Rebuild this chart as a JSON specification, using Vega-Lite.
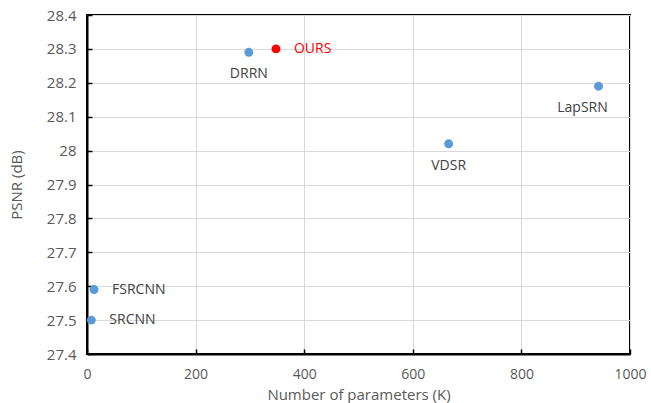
{
  "$schema": "https://vega.github.io/schema/vega-lite/v6.json",
  "width": 543,
  "height": 339,
  "autosize": {"type": "none"},
  "padding": {"left": 87, "top": 15, "right": 21, "bottom": 49},
  "config": {
    "font": "Open Sans",
    "view": {"stroke": "#000000", "strokeWidth": 2},
    "axis": {
      "domainColor": "#000000",
      "domainWidth": 2,
      "gridColor": "#d9d9d9",
      "gridWidth": 1,
      "tickColor": "#000000",
      "tickWidth": 1.5,
      "tickSize": -5,
      "labelColor": "#595959",
      "labelFontSize": 15,
      "labelFont": "Open Sans",
      "labelFlush": false,
      "titleColor": "#595959",
      "titleFontSize": 15,
      "titleFont": "Open Sans",
      "titleFontWeight": "normal"
    }
  },
  "data": {
    "values": [
      {"model": "SRCNN", "params": 8, "psnr": 27.5, "group": "other", "pos": "right"},
      {"model": "FSRCNN", "params": 13, "psnr": 27.59, "group": "other", "pos": "right"},
      {"model": "DRRN", "params": 298, "psnr": 28.29, "group": "other", "pos": "below"},
      {"model": "OURS", "params": 348, "psnr": 28.3, "group": "ours", "pos": "right"},
      {"model": "VDSR", "params": 666, "psnr": 28.02, "group": "other", "pos": "below"},
      {"model": "LapSRN", "params": 942, "psnr": 28.19, "group": "other", "pos": "belowleft"}
    ]
  },
  "encoding": {
    "x": {
      "field": "params",
      "type": "quantitative",
      "scale": {"domain": [0, 1000], "nice": false},
      "axis": {"values": [0, 200, 400, 600, 800, 1000], "format": "d", "title": "Number of parameters (K)", "labelFontSize": 14, "labelPadding": 18, "titlePadding": 6}
    },
    "y": {
      "field": "psnr",
      "type": "quantitative",
      "scale": {"domain": [27.4, 28.4], "nice": false, "zero": false},
      "axis": {"values": [27.4, 27.5, 27.6, 27.7, 27.8, 27.9, 28, 28.1, 28.2, 28.3, 28.4], "format": ".1~f", "title": "PSNR (dB)", "labelPadding": 16, "titlePadding": 22}
    }
  },
  "layer": [
    {
      "mark": {"type": "point", "filled": true, "size": 80, "opacity": 1},
      "encoding": {
        "color": {
          "field": "group",
          "type": "nominal",
          "scale": {"domain": ["other", "ours"], "range": ["#5b9bd5", "#ff0000"]},
          "legend": null
        }
      }
    },
    {
      "transform": [{"filter": "datum.pos === 'right'"}],
      "mark": {"type": "text", "align": "left", "baseline": "middle", "dx": 18, "fontSize": 14, "font": "Open Sans"},
      "encoding": {
        "text": {"field": "model"},
        "color": {"condition": {"test": "datum.group === 'ours'", "value": "#ff0000"}, "value": "#404040"}
      }
    },
    {
      "transform": [{"filter": "datum.pos === 'below'"}],
      "mark": {"type": "text", "align": "center", "baseline": "middle", "dy": 22, "fontSize": 14, "font": "Open Sans"},
      "encoding": {"text": {"field": "model"}, "color": {"value": "#404040"}}
    },
    {
      "transform": [{"filter": "datum.pos === 'belowleft'"}],
      "mark": {"type": "text", "align": "center", "baseline": "middle", "dy": 22, "dx": -16, "fontSize": 14, "font": "Open Sans"},
      "encoding": {"text": {"field": "model"}, "color": {"value": "#404040"}}
    }
  ]
}
